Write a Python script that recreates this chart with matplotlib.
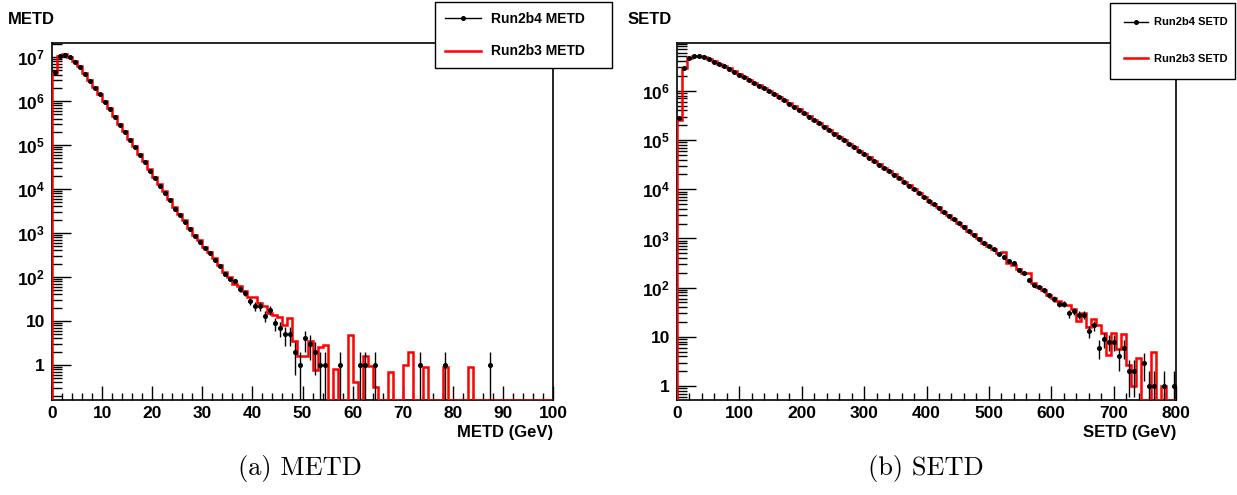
import numpy as np
import matplotlib
matplotlib.use("Agg")
import matplotlib.pyplot as plt
from matplotlib.lines import Line2D
from matplotlib.ticker import MultipleLocator, LogLocator, FuncFormatter, NullFormatter

# METD: 100 bins, 0-100 GeV
metd_range = (0, 100)
metd_run2b4 = [4.6e6, 1.07e7, 1.12e7, 9.8e6, 7.8e6, 6.0e6, 4.1e6, 2.9e6, 2.0e6, 1.41e6,
               9.5e5, 6.5e5, 4.4e5, 2.8e5, 2.0e5, 1.32e5, 8.9e4, 5.9e4, 4.0e4, 2.6e4,
               1.74e4, 1.2e4, 8300, 5600, 3600, 2500, 1800, 1230, 850, 630,
               447, 347, 245, 174, 120, 89, 83, 54, 44, 28,
               22, 22, 13, 18, 9, 7, 5, 5, 2, 1,
               4, 3, 2, 1, 1, 0, 0, 1, 0, 0,
               0, 1, 1, 0, 1, 0, 0, 0, 0, 0,
               0, 0, 0, 1, 0, 0, 0, 0, 1, 0,
               0, 0, 0, 0, 0, 0, 0, 1, 0, 0,
               0, 0, 0, 0, 0, 0, 0, 0, 0, 0]
metd_run2b3 = [4.4e6, 1.08e7, 1.15e7, 1.0e7, 8.0e6, 6.2e6, 4.3e6, 3.0e6, 2.1e6, 1.48e6,
               1.0e6, 6.9e5, 4.6e5, 3.0e5, 2.1e5, 1.4e5, 9.5e4, 6.3e4, 4.3e4, 2.8e4,
               1.88e4, 1.3e4, 9000, 6000, 3900, 2700, 1950, 1330, 920, 680,
               490, 375, 265, 190, 130, 98, 70, 63, 48, 35,
               35, 26, 22, 15, 14, 12.6, 8.1, 11.5, 3.6, 1.6,
               1.6, 3.5, 0.76, 2.6, 2.8, 0, 0.79, 0, 0, 4.7,
               0.42, 0, 1.58, 0.93, 0.31, 0, 0, 0.71, 0, 0,
               1.0, 2.0, 0, 0, 0.89, 0, 0, 0, 0.89, 0,
               0, 0, 0, 0.89, 0, 0, 0, 0, 0, 0,
               0, 0, 0, 0, 0, 0, 0, 0, 0, 0]

# SETD: 100 bins, 0-800 GeV
setd_range = (0, 800)
setd_run2b4 = [2.75e5, 2.9e6, 4.6e6, 5.1e6, 5.1e6, 4.8e6, 4.4e6, 3.9e6, 3.5e6, 3.16e6,
               2.8e6, 2.45e6, 2.14e6, 1.9e6, 1.66e6, 1.45e6, 1.26e6, 1.12e6, 9.8e5, 8.5e5,
               7.4e5, 6.5e5, 5.5e5, 4.8e5, 4.1e5, 3.5e5, 3.0e5, 2.57e5, 2.19e5, 1.86e5,
               1.58e5, 1.35e5, 1.15e5, 9.8e4, 8.3e4, 7.1e4, 6.0e4, 5.1e4, 4.4e4, 3.7e4,
               3.16e4, 2.7e4, 2.3e4, 1.95e4, 1.66e4, 1.38e4, 1.17e4, 1.0e4, 8300, 6900,
               5750, 5000, 4170, 3390, 2880, 2450, 2040, 1700, 1410, 1200,
               980, 790, 710, 600, 480, 410, 350, 310, 230, 200,
               141, 112, 102, 89, 71, 60, 47, 47, 30, 33,
               28, 28, 13, 17, 6, 9, 8, 8, 4, 6,
               2, 2, 0, 3, 1, 1, 0, 1, 0, 1]
setd_run2b3 = [2.6e5, 2.9e6, 4.7e6, 5.2e6, 5.1e6, 4.9e6, 4.4e6, 4.0e6, 3.6e6, 3.2e6,
               2.85e6, 2.5e6, 2.2e6, 1.92e6, 1.7e6, 1.47e6, 1.29e6, 1.14e6, 1.0e6, 8.7e5,
               7.5e5, 6.6e5, 5.6e5, 4.9e5, 4.2e5, 3.55e5, 3.05e5, 2.6e5, 2.22e5, 1.9e5,
               1.6e5, 1.37e5, 1.17e5, 1.0e5, 8.5e4, 7.2e4, 6.1e4, 5.2e4, 4.5e4, 3.8e4,
               3.2e4, 2.75e4, 2.35e4, 2.0e4, 1.7e4, 1.42e4, 1.2e4, 1.02e4, 8500, 7100,
               5900, 5100, 4300, 3500, 2950, 2500, 2100, 1750, 1450, 1230,
               1000, 810, 708, 603, 501, 525, 316, 282, 240, 200,
               200, 126, 105, 89, 71, 63, 54, 45, 45, 37,
               21.4, 30, 16.2, 22.9, 17.4, 11.7, 4.3, 11.7, 5.6, 11.5,
               2.7, 1.0, 3.8, 0, 0, 5.0, 0, 1.0, 0, 0]

plt.rcParams['font.family'] = 'Liberation Sans'
plt.rcParams['font.weight'] = 'bold'
plt.rcParams['mathtext.fontset'] = 'custom'
plt.rcParams['mathtext.rm'] = 'Liberation Sans:bold'
plt.rcParams['mathtext.default'] = 'rm'


def log_label(v, pos):
    e = int(round(np.log10(v)))
    if e == 0:
        return '1'
    if e == 1:
        return '10'
    return r'$10^{%d}$' % e


def draw(ax, rng, black, red, ylim, xmajor, xminor):
    black = np.array(black, dtype=float)
    red = np.array(red, dtype=float)
    edges = np.linspace(rng[0], rng[1], len(black) + 1)
    centers = 0.5 * (edges[:-1] + edges[1:])
    width = edges[1] - edges[0]

    ax.set_yscale('log')
    ax.stairs(np.clip(red, ylim[0], None), edges, baseline=ylim[0],
              color='red', lw=1.8, zorder=3)
    nz = black > 0
    b = black[nz]
    err = np.sqrt(b)
    lo = np.minimum(err, b - ylim[0] * 0.5)
    ax.errorbar(centers[nz], b, yerr=[lo, err], xerr=0.35 * width, fmt='o',
                ms=2.6, color='black', elinewidth=1, capsize=0, zorder=4)

    ax.set_xlim(rng)
    ax.set_ylim(ylim)
    ax.xaxis.set_major_locator(MultipleLocator(xmajor))
    ax.xaxis.set_minor_locator(MultipleLocator(xminor))
    ax.yaxis.set_major_locator(LogLocator(base=10, numticks=20))
    ax.yaxis.set_minor_locator(LogLocator(base=10, subs=np.arange(2, 10), numticks=20))
    ax.yaxis.set_major_formatter(FuncFormatter(log_label))
    ax.yaxis.set_minor_formatter(NullFormatter())
    ax.tick_params(which='both', direction='in', top=False, right=False,
                   labelsize=12.5, width=1)
    ax.tick_params(axis='x', which='major', length=10, pad=4)
    ax.tick_params(axis='x', which='minor', length=5)
    ax.tick_params(axis='y', which='major', length=14, pad=5)
    ax.tick_params(axis='y', which='minor', length=7)
    for s in ax.spines.values():
        s.set_linewidth(1.2)


W, H = 1237, 495
fig = plt.figure(figsize=(W / 100, H / 100), dpi=100)
ax1 = fig.add_axes([52 / W, 95 / H, 501 / W, 357 / H])
ax2 = fig.add_axes([677 / W, 95 / H, 499 / W, 357 / H])

draw(ax1, metd_range, metd_run2b4, metd_run2b3, (0.16, 2.08e7), 10, 2)
draw(ax2, setd_range, setd_run2b4, setd_run2b3, (0.52, 9.4e6), 100, 20)

fig.text(8 / W, 1 - 20 / H, 'METD', fontsize=12, va='center')
fig.text(628 / W, 1 - 20 / H, 'SETD', fontsize=12, va='center')
fig.text(553 / W, 1 - 432 / H, 'METD (GeV)', fontsize=12, ha='right', va='center')
fig.text(1176 / W, 1 - 432 / H, 'SETD (GeV)', fontsize=12, ha='right', va='center')

fig.text(300 / W, 1 - 468 / H, '(a) METD', family='cmr10', fontsize=19,
         fontweight='normal', ha='center', va='center')
fig.text(926 / W, 1 - 468 / H, '(b) SETD', family='cmr10', fontsize=19,
         fontweight='normal', ha='center', va='center')

h_black = Line2D([], [], color='black', marker='o', ms=2.6, lw=1)
h_red = Line2D([], [], color='red', lw=1.8)
fig.legend([h_black, h_red], ['Run2b4 METD', 'Run2b3 METD'], loc='upper left',
           bbox_to_anchor=(435 / W, 1 - 68 / H, 177 / W, 66 / H), mode='expand',
           frameon=True, fancybox=False, edgecolor='black', framealpha=1,
           fontsize=10, labelspacing=1.35, handlelength=2.6, handletextpad=0.7,
           borderpad=0.7, borderaxespad=0)
fig.legend([h_black, h_red], ['Run2b4 SETD', 'Run2b3 SETD'], loc='upper left',
           bbox_to_anchor=(1110 / W, 1 - 70 / H, 125 / W, 67 / H), mode='expand',
           frameon=True, fancybox=False, edgecolor='black', framealpha=1,
           fontsize=8, labelspacing=2.4, handlelength=2.1, handletextpad=0.6,
           borderpad=1.3, borderaxespad=0)

fig.savefig('out.png', dpi=100)
